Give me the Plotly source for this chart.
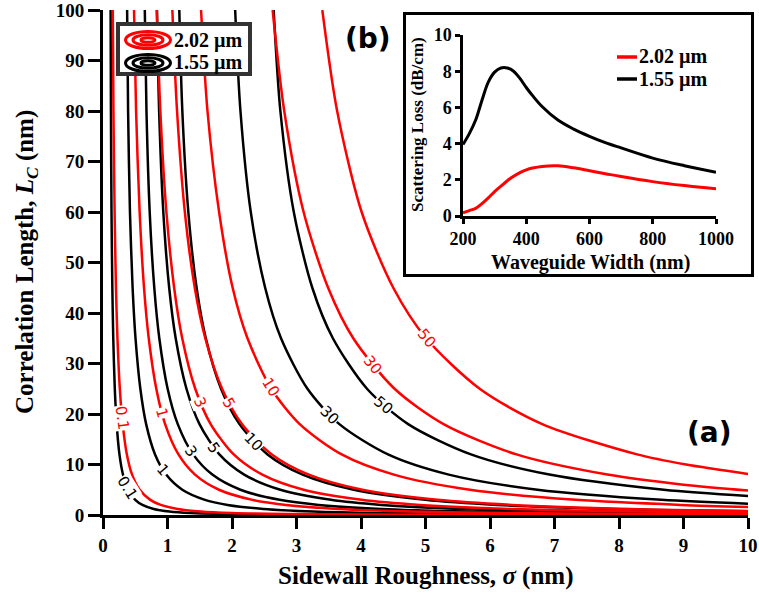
import plotly.graph_objects as go

# ---------------- data ----------------
sigma_ticks = [0, 1, 2, 3, 4, 5, 6, 7, 8, 9, 10]
lc_ticks = [0, 10, 20, 30, 40, 50, 60, 70, 80, 90, 100]

# (a) iso-loss contours (dB/cm) at 2.02 um  -> sigma (nm), Lc (nm)
red_0p1_sigma = [0.152, 0.162, 0.180, 0.201, 0.224, 0.261, 0.305, 0.370, 0.451, 0.569, 0.733, 0.896, 1.156, 1.513, 2.0, 2.83, 4.0, 5.66, 8.0, 10.0]
red_0p1_lc = [100, 80, 60, 45, 35, 25, 18, 12, 8, 5, 3, 2, 1.2, 0.7, 0.4, 0.2, 0.1, 0.05, 0.025, 0.016]
red_1_sigma = [0.481, 0.513, 0.568, 0.636, 0.709, 0.826, 0.963, 1.170, 1.427, 1.798, 2.316, 2.834, 3.655, 4.78, 6.33, 8.0, 10.0]
red_1_lc = [100, 80, 60, 45, 35, 25, 18, 12, 8, 5, 3, 2, 1.2, 0.7, 0.4, 0.25, 0.16]
red_3_sigma = [0.833, 0.889, 0.983, 1.103, 1.228, 1.430, 1.669, 2.027, 2.47, 3.11, 4.01, 4.91, 6.33, 8.28, 10.0]
red_3_lc = [100, 80, 60, 45, 35, 25, 18, 12, 8, 5, 3, 2, 1.2, 0.7, 0.48]
red_5_sigma = [1.075, 1.148, 1.269, 1.423, 1.586, 1.846, 2.154, 2.617, 3.19, 4.02, 5.18, 6.34, 8.17, 10.0]
red_5_lc = [100, 80, 60, 45, 35, 25, 18, 12, 8, 5, 3, 2, 1.2, 0.8]
red_10_sigma = [1.52, 1.62, 1.80, 2.01, 2.24, 2.61, 3.05, 3.70, 4.51, 5.69, 7.33, 8.96, 10.0]
red_10_lc = [100, 80, 60, 45, 35, 25, 18, 12, 8, 5, 3, 2, 1.6]
red_30_sigma = [2.63, 2.81, 3.11, 3.49, 3.88, 4.52, 5.28, 6.41, 7.82, 9.0, 10.0]
red_30_lc = [100, 80, 60, 45, 35, 25, 18, 12, 8, 6, 4.85]
red_50_sigma = [3.40, 3.63, 4.01, 4.50, 5.01, 5.84, 6.81, 8.28, 9.04, 10.0]
red_50_lc = [100, 80, 60, 45, 35, 25, 18, 12, 10, 8.14]

# iso-loss contours at 1.55 um
blk_0p1_sigma = [0.118, 0.123, 0.132, 0.145, 0.159, 0.183, 0.212, 0.255, 0.310, 0.389, 0.500, 0.611, 0.787, 1.030, 1.361, 1.924, 2.721, 3.848, 6.08, 10.0]
blk_0p1_lc = [100, 80, 60, 45, 35, 25, 18, 12, 8, 5, 3, 2, 1.2, 0.7, 0.4, 0.2, 0.1, 0.05, 0.02, 0.0074]
blk_1_sigma = [0.374, 0.389, 0.418, 0.459, 0.504, 0.579, 0.669, 0.807, 0.979, 1.230, 1.580, 1.931, 2.489, 3.256, 4.305, 6.085, 8.604, 10.0]
blk_1_lc = [100, 80, 60, 45, 35, 25, 18, 12, 8, 5, 3, 2, 1.2, 0.7, 0.4, 0.2, 0.1, 0.074]
blk_3_sigma = [0.648, 0.674, 0.724, 0.795, 0.873, 1.002, 1.159, 1.397, 1.695, 2.130, 2.738, 3.345, 4.311, 5.64, 7.46, 8.61, 10.0]
blk_3_lc = [100, 80, 60, 45, 35, 25, 18, 12, 8, 5, 3, 2, 1.2, 0.7, 0.4, 0.3, 0.222]
blk_5_sigma = [0.837, 0.870, 0.935, 1.026, 1.127, 1.294, 1.496, 1.804, 2.189, 2.750, 3.534, 4.319, 5.566, 7.28, 8.61, 10.0]
blk_5_lc = [100, 80, 60, 45, 35, 25, 18, 12, 8, 5, 3, 2, 1.2, 0.7, 0.5, 0.37]
blk_10_sigma = [1.183, 1.230, 1.323, 1.451, 1.594, 1.830, 2.116, 2.551, 3.095, 3.888, 4.998, 6.107, 7.872, 10.0]
blk_10_lc = [100, 80, 60, 45, 35, 25, 18, 12, 8, 5, 3, 2, 1.2, 0.74]
blk_30_sigma = [2.049, 2.131, 2.291, 2.514, 2.760, 3.170, 3.665, 4.419, 5.361, 6.735, 8.657, 10.0]
blk_30_lc = [100, 80, 60, 45, 35, 25, 18, 12, 8, 5, 3, 2.24]
blk_50_sigma = [2.646, 2.750, 2.958, 3.245, 3.564, 4.093, 4.731, 5.705, 6.921, 8.695, 10.0]
blk_50_lc = [100, 80, 60, 45, 35, 25, 18, 12, 8, 5, 3.76]

contour_levels = ["0.1", "1", "3", "5", "10", "30", "50"]

# (b) inset: scattering loss vs waveguide width
width_nm = [200, 220, 240, 260, 280, 300, 320, 340, 360, 380, 400, 420, 450, 500, 550, 600, 650, 700, 800, 900, 1000]
loss_155 = [3.95, 4.55, 5.3, 6.4, 7.4, 7.95, 8.18, 8.18, 8.0, 7.6, 7.1, 6.65, 6.05, 5.3, 4.8, 4.4, 4.05, 3.76, 3.2, 2.78, 2.42]
loss_202 = [0.18, 0.3, 0.42, 0.68, 1.0, 1.35, 1.65, 1.95, 2.2, 2.4, 2.55, 2.65, 2.74, 2.77, 2.66, 2.5, 2.34, 2.18, 1.9, 1.68, 1.5]
inset_x_ticks = [200, 400, 600, 800, 1000]
inset_y_ticks = [0, 2, 4, 6, 8, 10]

# ---------------- styling ----------------
RED = "#ff0000"
BLACK = "#000000"
SERIF = "Liberation Serif, Times New Roman, serif"
SANS = "DejaVu Sans, sans-serif"

W, H = 759, 593
ML, MR, MT, MB = 103, 11, 10, 78
PW, PH = W - ML - MR, H - MT - MB


def px(xp):
    return (xp - ML) / PW


def py(yp):
    return (H - MB - yp) / PH


fig = go.Figure()

black_series = [(blk_0p1_sigma, blk_0p1_lc), (blk_1_sigma, blk_1_lc), (blk_3_sigma, blk_3_lc),
                (blk_5_sigma, blk_5_lc), (blk_10_sigma, blk_10_lc), (blk_30_sigma, blk_30_lc),
                (blk_50_sigma, blk_50_lc)]
red_series = [(red_0p1_sigma, red_0p1_lc), (red_1_sigma, red_1_lc), (red_3_sigma, red_3_lc),
              (red_5_sigma, red_5_lc), (red_10_sigma, red_10_lc), (red_30_sigma, red_30_lc),
              (red_50_sigma, red_50_lc)]

for (s, lc), lvl in zip(black_series, contour_levels):
    fig.add_trace(go.Scatter(x=s, y=lc, mode="lines", name=f"1.55 um {lvl}",
                             line=dict(color=BLACK, width=2.5, shape="spline", smoothing=0.8),
                             showlegend=False, hoverinfo="skip"))
for (s, lc), lvl in zip(red_series, contour_levels):
    fig.add_trace(go.Scatter(x=s, y=lc, mode="lines", name=f"2.02 um {lvl}",
                             line=dict(color=RED, width=2.5, shape="spline", smoothing=0.8),
                             showlegend=False, hoverinfo="skip"))

# white backing for the inset box (subplot 2 background hides the contours)
fig.add_trace(go.Scatter(x=[0.5], y=[0.5], xaxis="x2", yaxis="y2", mode="markers",
                         marker=dict(opacity=0), showlegend=False, hoverinfo="skip"))

# inset curves
fig.add_trace(go.Scatter(x=width_nm, y=loss_202, xaxis="x3", yaxis="y3", mode="lines",
                         line=dict(color=RED, width=3, shape="spline"), showlegend=False))
fig.add_trace(go.Scatter(x=width_nm, y=loss_155, xaxis="x3", yaxis="y3", mode="lines",
                         line=dict(color=BLACK, width=3, shape="spline"), showlegend=False))

axis_common = dict(showgrid=False, zeroline=False, showline=True, linecolor="black",
                   ticks="outside", tickcolor="black", mirror=False, automargin=False,
                   ticklabeloverflow="allow")

fig.update_layout(
    width=W, height=H,
    margin=dict(l=ML, r=MR, t=MT, b=MB, autoexpand=False),
    paper_bgcolor="white", plot_bgcolor="white",
    showlegend=False,
    xaxis=dict(domain=[0, 1], range=[0, 10], tickvals=sigma_ticks, linewidth=3, ticklen=11, tickwidth=3,
               tickfont=dict(family=SERIF, size=19, color="black", weight="bold"), **axis_common),
    yaxis=dict(domain=[0, 1], range=[0, 100], tickvals=lc_ticks, linewidth=3, ticklen=12, tickwidth=3,
               tickfont=dict(family=SERIF, size=19, color="black", weight="bold"), **axis_common),
    xaxis2=dict(domain=[px(403), 1.0], range=[0, 1], visible=False, anchor="y2"),
    yaxis2=dict(domain=[py(277), py(12)], range=[0, 1], visible=False, anchor="x2"),
    xaxis3=dict(domain=[px(463), px(716)], range=[200, 1000], tickvals=inset_x_ticks, anchor="y3",
                linewidth=2.5, ticklen=5, tickwidth=2.5,
                tickfont=dict(family=SERIF, size=18, color="black", weight="bold"), **axis_common),
    yaxis3=dict(domain=[py(216), py(35)], range=[0, 10], tickvals=inset_y_ticks, anchor="x3",
                linewidth=2.5, ticklen=5, tickwidth=2.5,
                tickfont=dict(family=SERIF, size=18, color="black", weight="bold"), **axis_common),
)

shapes = []
# inset frame
shapes.append(dict(type="rect", xref="paper", yref="paper", x0=px(404.5), x1=px(752.5),
                   y0=py(275.5), y1=py(13.5), line=dict(color="black", width=3),
                   fillcolor="rgba(0,0,0,0)", layer="above"))
# main legend box
shapes.append(dict(type="rect", xref="paper", yref="paper", x0=px(118), x1=px(250),
                   y0=py(74), y1=py(24), line=dict(color="#333333", width=4),
                   fillcolor="white", layer="above"))
# contour-style legend icons
for cy, col in [(40, RED), (63, BLACK)]:
    for w_, h_ in [(45, 17), (30, 10.5), (14, 4.5)]:
        shapes.append(dict(type="circle", xref="paper", yref="paper",
                           x0=px(148 - w_ / 2), x1=px(148 + w_ / 2),
                           y0=py(cy + h_ / 2), y1=py(cy - h_ / 2),
                           line=dict(color=col, width=3), layer="above"))
# inset legend line samples
for cy, col in [(57, RED), (79, BLACK)]:
    shapes.append(dict(type="line", xref="paper", yref="paper", x0=px(617), x1=px(637),
                       y0=py(cy), y1=py(cy), line=dict(color=col, width=3.5), layer="above"))
fig.update_layout(shapes=shapes)

ann = []
# axis titles
ann.append(dict(text="Sidewall Roughness, <i>σ</i> (nm)", xref="paper", yref="paper",
                x=0.5, y=py(576), xanchor="center", yanchor="middle", showarrow=False,
                font=dict(family=SERIF, size=25, color="black", weight="bold")))
ann.append(dict(text="Correlation Length, <i>L</i><sub><i>C</i></sub> (nm)", xref="paper", yref="paper",
                x=px(26), y=py(262), xanchor="center", yanchor="middle", textangle=-90, showarrow=False,
                font=dict(family=SERIF, size=25, color="black", weight="bold")))
# inset titles
ann.append(dict(text="Waveguide Width (nm)", xref="paper", yref="paper",
                x=px(590), y=py(262), xanchor="center", yanchor="middle", showarrow=False,
                font=dict(family=SERIF, size=20, color="black", weight="bold")))
ann.append(dict(text="Scattering Loss (dB/cm)", xref="paper", yref="paper",
                x=px(418), y=py(125), xanchor="center", yanchor="middle", textangle=-90, showarrow=False,
                font=dict(family=SERIF, size=17, color="black", weight="bold")))
# legends text
for cy, txt in [(40, "2.02 µm"), (63, "1.55 µm")]:
    ann.append(dict(text=txt, xref="paper", yref="paper", x=px(172), y=py(cy),
                    xanchor="left", yanchor="middle", showarrow=False,
                    font=dict(family=SERIF, size=20, color="black", weight="bold")))
for cy, txt in [(57, "2.02 µm"), (79, "1.55 µm")]:
    ann.append(dict(text=txt, xref="paper", yref="paper", x=px(637), y=py(cy),
                    xanchor="left", yanchor="middle", showarrow=False,
                    font=dict(family=SERIF, size=20, color="black", weight="bold")))
# panel tags
ann.append(dict(text="<b>(a)</b>", xref="paper", yref="paper", x=px(709), y=py(432),
                xanchor="center", yanchor="middle", showarrow=False,
                font=dict(family=SANS, size=28, color="black")))
ann.append(dict(text="<b>(b)</b>", xref="paper", yref="paper", x=px(368), y=py(38),
                xanchor="center", yanchor="middle", showarrow=False,
                font=dict(family=SANS, size=28, color="black")))

# contour labels (placed on the lines)
red_label_pos = [(0.295, 19.2, 82), (0.912, 20.2, 74), (1.511, 22.2, 66), (1.951, 22.2, 61),
                 (2.597, 25.3, 58), (4.18, 29.7, 51), (5.014, 35.0, 50)]
blk_label_pos = [(0.378, 5.3, 58), (0.930, 8.9, 50), (1.371, 12.5, 55), (1.719, 13.3, 55),
                 (2.336, 14.5, 46), (3.51, 19.8, 45), (4.343, 21.8, 40)]
for (xx, yy, ang), lvl in zip(red_label_pos, contour_levels):
    ann.append(dict(text=lvl, x=xx, y=yy, xref="x", yref="y", showarrow=False, textangle=ang,
                    bgcolor="white", borderpad=0,
                    font=dict(family=SANS, size=15, color=RED)))
for (xx, yy, ang), lvl in zip(blk_label_pos, contour_levels):
    ann.append(dict(text=lvl, x=xx, y=yy, xref="x", yref="y", showarrow=False, textangle=ang,
                    bgcolor="white", borderpad=0,
                    font=dict(family=SANS, size=15, color=BLACK)))
fig.update_layout(annotations=ann)

fig.write_html("out.html")
